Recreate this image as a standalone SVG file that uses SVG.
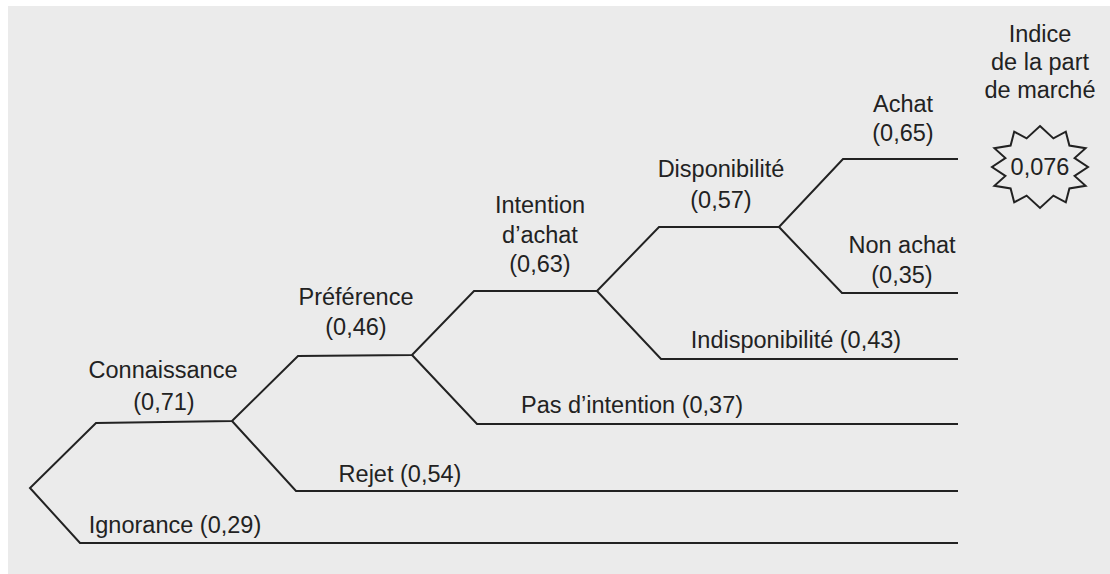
<svg xmlns="http://www.w3.org/2000/svg" width="1110" height="574" viewBox="0 0 1110 574">
<style>
.t{font-family:"Liberation Sans",Arial,sans-serif;font-size:23.5px;fill:#222;text-anchor:middle}
.c{fill:none;stroke:#222;stroke-width:2;stroke-linejoin:miter}
</style>
<rect x="0" y="0" width="1110" height="574" fill="#fff"/>
<rect x="8" y="6" width="1102" height="568" fill="#ebebeb"/>
<g id="connectors" class="c">
<polyline points="958,543 80,543 30,488 96,423 232,421 298,356 412,355 474,291 597,291 659,227 779,227 843,159 958,159"/>
<polyline points="232,421 296,491 958,491"/>
<polyline points="412,355 477,424 958,424"/>
<polyline points="597,291 661,359 958,359"/>
<polyline points="779,227 842,293 958,293"/>
</g>
<g id="connaissance"><text class="t" x="163" y="378">Connaissance</text><text class="t" x="164" y="410">(0,71)</text></g>
<g id="ignorance"><text class="t" x="175" y="533">Ignorance (0,29)</text></g>
<g id="rejet"><text class="t" x="400" y="482">Rejet (0,54)</text></g>
<g id="preference"><text class="t" x="356" y="305">Préférence</text><text class="t" x="356" y="335">(0,46)</text></g>
<g id="pas-intention"><text class="t" x="632" y="413">Pas d’intention (0,37)</text></g>
<g id="intention"><text class="t" x="540" y="213">Intention</text><text class="t" x="540" y="243">d’achat</text><text class="t" x="540" y="272">(0,63)</text></g>
<g id="indisponibilite"><text class="t" x="796" y="348">Indisponibilité (0,43)</text></g>
<g id="disponibilite"><text class="t" x="721" y="177">Disponibilité</text><text class="t" x="721" y="208">(0,57)</text></g>
<g id="achat"><text class="t" x="903" y="112">Achat</text><text class="t" x="903" y="141">(0,65)</text></g>
<g id="non-achat"><text class="t" x="902" y="253">Non achat</text><text class="t" x="902" y="283">(0,35)</text></g>
<g id="indice"><text class="t" x="1040" y="42">Indice</text><text class="t" x="1040" y="70">de la part</text><text class="t" x="1040" y="98">de marché</text></g>
<g id="resultat">
<polygon class="c" stroke-width="1.8" points="1040,126 1053.4,138.4 1065.8,131.7 1069.4,145.5 1085.6,148.2 1074.6,158.1 1088,167 1074.6,175.9 1085.6,185.8 1069.4,188.5 1065.8,202.3 1053.4,195.6 1040,208 1026.6,195.6 1014.2,202.3 1010.6,188.5 994.4,185.8 1005.4,175.9 992,167 1005.4,158.1 994.4,148.2 1010.6,145.5 1014.2,131.7 1026.6,138.4"/>
<text class="t" x="1040" y="175">0,076</text>
</g>
</svg>
